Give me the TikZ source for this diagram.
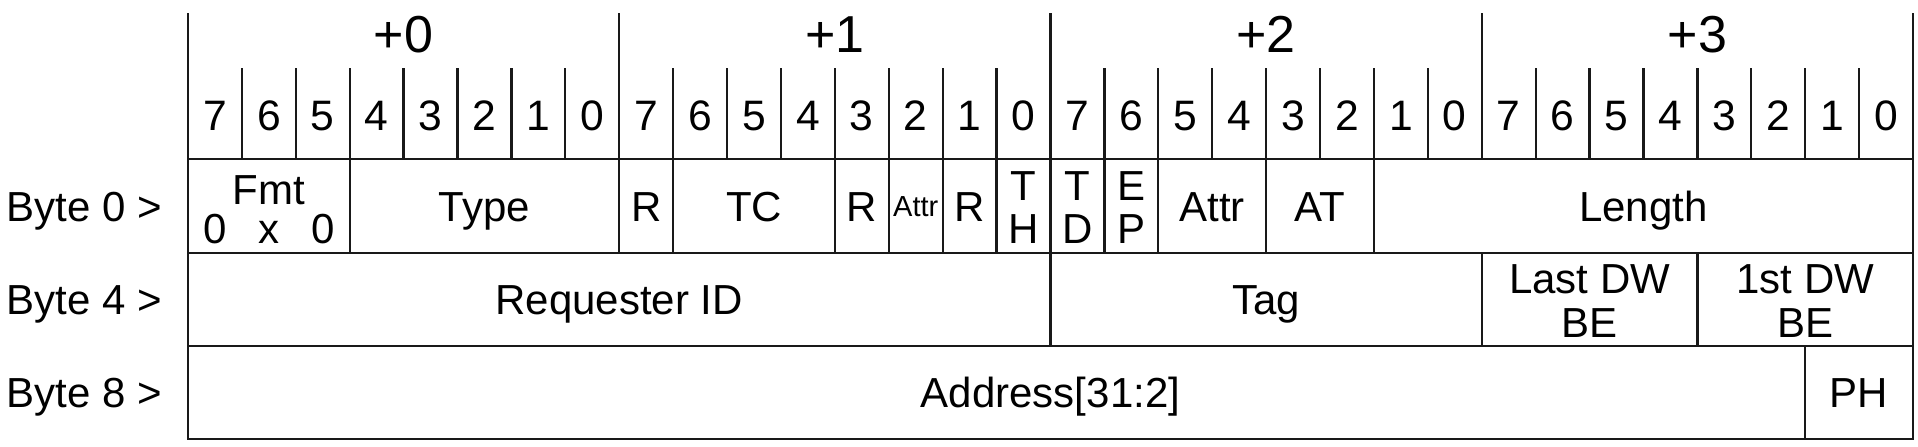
\documentclass[tikz,border=0pt]{standalone}
\usepackage{fontspec}
\setmainfont{Liberation Sans}
\begin{document}
\begin{tikzpicture}[x=0.5pt,y=-0.5pt,
  grid/.style={line width=1.15pt, draw=black!90},
  bitnum/.style={font=\fontsize{21.3}{21.3}\selectfont, anchor=base, inner sep=0pt},
  bytenum/.style={font=\fontsize{26}{26}\selectfont, anchor=base, inner sep=0pt},
  field/.style={font=\fontsize{21}{21}\selectfont, anchor=base, inner sep=0pt},
  smallfield/.style={font=\fontsize{14.5}{14.5}\selectfont, anchor=base, inner sep=0pt},
  rowlabel/.style={font=\fontsize{21}{21}\selectfont, anchor=base west, inner sep=0pt}]
\def\L{188}
\def\W{53.906}
\useasboundingbox (0,0) rectangle (1918,446);
% outer frame
\draw[grid] (\L,13) -- (\L,439) -- (1913,439) -- (1913,13);
% byte separators in header
\foreach \i in {8,16,24} \draw[grid] ({\L+\W*\i},13) -- ({\L+\W*\i},159);
% bit ticks
\foreach \i in {1,...,31} {
  \pgfmathtruncatemacro\m{mod(\i,8)}
  \ifnum\m=0\relax\else
    \draw[grid] ({\L+\W*\i},68) -- ({\L+\W*\i},159);
  \fi
}
% horizontal rules
\foreach \y in {159,253,346} \draw[grid] (\L,\y) -- (1913,\y);
% row 0 dividers
\foreach \i in {3,8,9,12,13,14,15,16,17,18,20,22} \draw[grid] ({\L+\W*\i},159) -- ({\L+\W*\i},253);
% row 1 dividers
\foreach \i in {16,24,28} \draw[grid] ({\L+\W*\i},253) -- ({\L+\W*\i},346);
% row 2 divider
\draw[grid] ({\L+\W*30},346) -- ({\L+\W*30},439);
% byte offsets
\foreach \k in {0,1,2,3} \node[bytenum] (off\k) at ({\L+\W*(8*\k+4)},52) {+\k};
% bit numbers
\foreach \i in {0,...,31} {
  \pgfmathtruncatemacro\d{7-mod(\i,8)}
  \node[bitnum] (bit\i) at ({\L+\W*(\i+0.5)},130) {\d};
}
% row labels
\node[rowlabel] (lab0) at (6,221) {Byte 0 >};
\node[rowlabel] (lab4) at (6,314.5) {Byte 4 >};
\node[rowlabel] (lab8) at (6,407.5) {Byte 8 >};
% row 0 fields
\node[field] (fmt) at ({\L+\W*1.5},204) {Fmt};
\node[field] (fmta) at ({\L+\W*0.5},243) {0};
\node[field] (fmtb) at ({\L+\W*1.5},243) {x};
\node[field] (fmtc) at ({\L+\W*2.5},243) {0};
\node[field] (type) at ({\L+\W*5.5},221) {Type};
\node[field] (r1) at ({\L+\W*8.5},221) {R};
\node[field] (tc) at ({\L+\W*10.5},221) {TC};
\node[field] (r2) at ({\L+\W*12.5},221) {R};
\node[smallfield] (attra) at ({\L+\W*13.5},216) {Attr};
\node[field] (r3) at ({\L+\W*14.5},221) {R};
\node[field] (tha) at ({\L+\W*15.5},200) {T};
\node[field] (thb) at ({\L+\W*15.5},243) {H};
\node[field] (tda) at ({\L+\W*16.5},200) {T};
\node[field] (tdb) at ({\L+\W*16.5},243) {D};
\node[field] (epa) at ({\L+\W*17.5},200) {E};
\node[field] (epb) at ({\L+\W*17.5},243) {P};
\node[field] (attrb) at ({\L+\W*19},221) {Attr};
\node[field] (at) at ({\L+\W*21},221) {AT};
\node[field] (len) at ({\L+\W*27},221) {Length};
% row 1 fields
\node[field] (reqid) at ({\L+\W*8},314.5) {Requester ID};
\node[field] (tag) at ({\L+\W*20},314.5) {Tag};
\node[field] (lastbea) at ({\L+\W*26},293) {Last DW};
\node[field] (lastbeb) at ({\L+\W*26},337) {BE};
\node[field] (firstbea) at ({\L+\W*30},293) {1st DW};
\node[field] (firstbeb) at ({\L+\W*30},337) {BE};
% row 2 fields
\node[field] (addr) at ({\L+\W*16},407.5) {Address[31:2]};
\node[field] (ph) at ({\L+\W*31},407.5) {PH};
\end{tikzpicture}
\end{document}
